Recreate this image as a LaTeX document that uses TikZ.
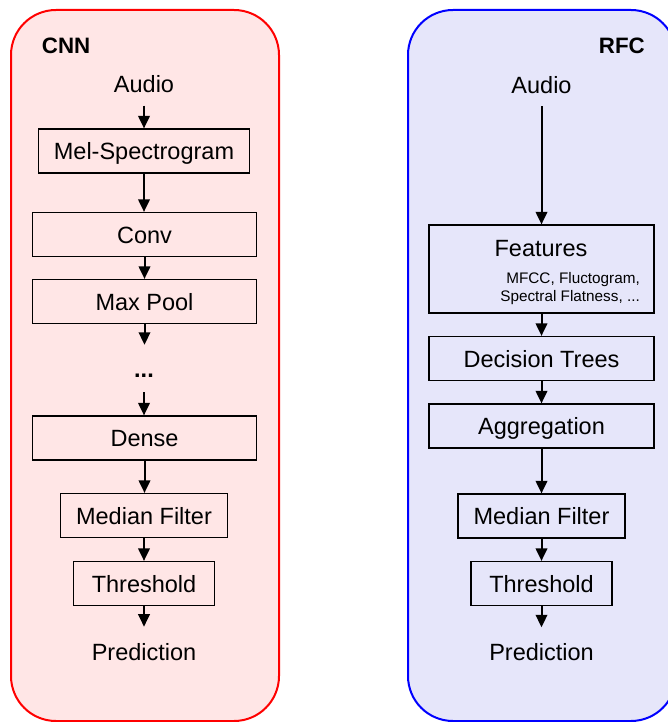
\documentclass[tikz,border=0pt]{standalone}
\usepackage{fontspec}
\setmainfont{Liberation Sans}
\usetikzlibrary{arrows.meta}
\definecolor{cnnbg}{RGB}{255,230,230}
\definecolor{rfcbg}{RGB}{230,230,250}
\tikzstyle{every node}=[font=\fontsize{23.5}{28}\selectfont,text height=17pt,text depth=0pt]
\tikzstyle{panel}=[line width=2pt,rounded corners=45pt]
\tikzstyle{block}=[draw,line width=1.2pt,inner sep=0pt,minimum height=44pt]
\tikzstyle{term}=[inner xsep=0pt]
\tikzstyle{title}=[font=\fontsize{22.3}{26}\selectfont\bfseries,inner sep=0pt]
\tikzstyle{flowarrow}=[line width=2pt,-{Triangle[width=11.5pt,length=12.5pt]}]

\begin{document}
\begin{tikzpicture}[x=1pt,y=-1pt]
    \useasboundingbox (0,0) rectangle (668,722);
    \clip (0,0) rectangle (668,722);

    % Background panels
    \draw[panel,red,fill=cnnbg] (11,10) rectangle (279,721);
    \draw[panel,blue,fill=rfcbg] (408,10) rectangle (676,721);
    \node[title,anchor=west] (cnn) at (41.7,44.7) {CNN};
    \node[title,anchor=east] (rfc) at (645,45) {RFC};

    % CNN pipeline
    \node[term,inner ysep=12.5pt] (audioL) at (144,84.5) {Audio};
    \node[block,minimum width=211pt] (mel) at (144,151) {Mel-Spectrogram};
    \node[block,minimum width=224pt] (conv) at (144.5,234.5) {Conv};
    \node[block,minimum width=224pt] (pool) at (144.5,301.5) {Max Pool};
    \node[inner sep=0pt,minimum height=47pt,font=\fontsize{23.5}{28}\selectfont\bfseries] (dots) at (144,368.5) {...};
    \node[block,minimum width=224pt] (dense) at (144.5,438) {Dense};
    \node[block,minimum width=167pt] (medL) at (144,515.5) {Median Filter};
    \node[block,minimum width=141pt] (thrL) at (144,583.5) {Threshold};
    \node[term,inner ysep=16.3pt] (predL) at (144,651.7) {Prediction};
    % Connections for CNN
    \foreach \a/\b in {audioL/mel,mel/conv,conv/pool,pool/dots,dots/dense,dense/medL,medL/thrL,thrL/predL}
        \draw[flowarrow] (\a.south) -- (\a.south |- \b.north);

    % RFC pipeline
    \node[term,inner ysep=12.7pt] (audioR) at (541.5,84.7) {Audio};
    \node[block,minimum width=225pt,minimum height=88pt] (feat) at (541.5,269) {};
    \node[inner sep=0pt] (featname) at (541,248) {Features};
    \node[font=\fontsize{15.3}{17.5}\selectfont,text height={},text depth={},align=right,anchor=north east,inner sep=0pt] (featlist) at (640,272.5) {MFCC, Fluctogram,\\Spectral Flatness, ...};
    \node[block,minimum width=225pt] (trees) at (541.5,358.5) {Decision Trees};
    \node[block,minimum width=225pt] (aggr) at (541.5,426) {Aggregation};
    \node[block,minimum width=167pt] (medR) at (541.5,516) {Median Filter};
    \node[block,minimum width=141pt] (thrR) at (541.5,583.5) {Threshold};
    \node[term,inner ysep=16pt] (predR) at (541.5,652) {Prediction};
    % Connections for RFC
    \foreach \a/\b in {audioR/feat,feat/trees,trees/aggr,aggr/medR,medR/thrR,thrR/predR}
        \draw[flowarrow] (\a.south) -- (\a.south |- \b.north);

\end{tikzpicture}
\end{document}
